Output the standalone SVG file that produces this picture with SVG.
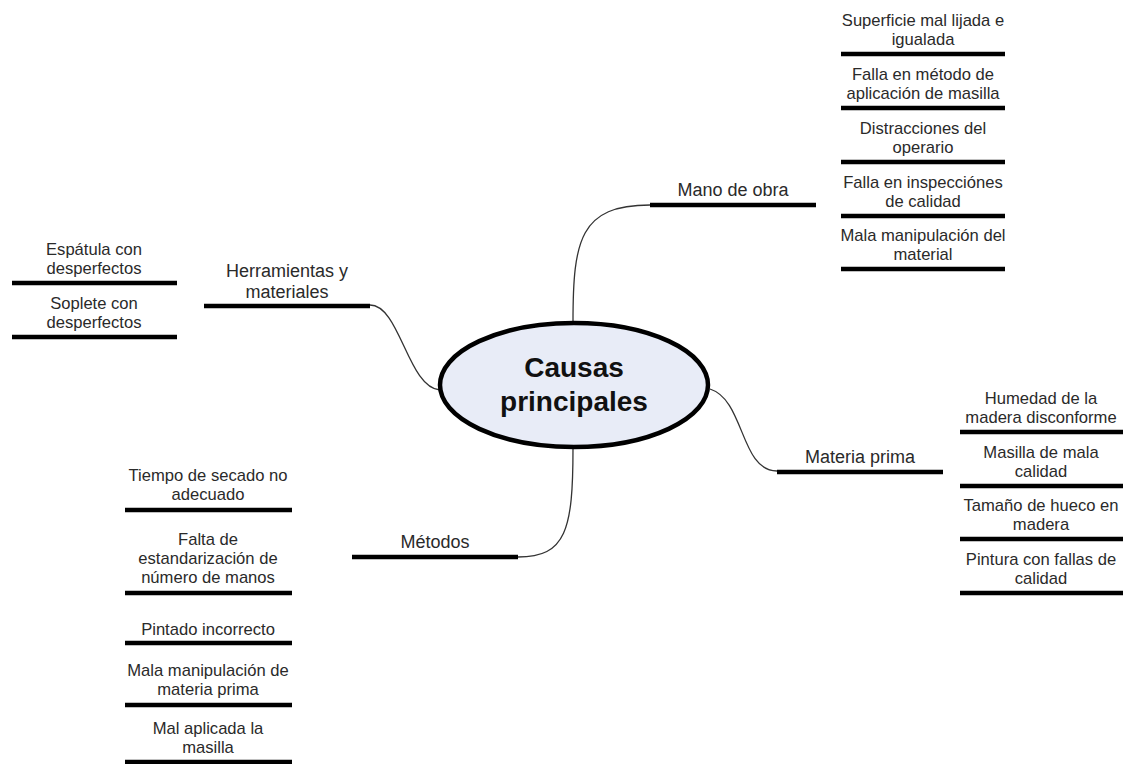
<svg xmlns="http://www.w3.org/2000/svg" width="1123" height="764" viewBox="0 0 1123 764">
<style>
text{font-family:"Liberation Sans",Arial,sans-serif;fill:#2a2a2a;text-anchor:middle}
.leaf{font-size:16.6px}
.br{font-size:18px}
.main{font-size:28px;font-weight:bold;fill:#111}
.bar{stroke:#000;stroke-width:4.5;stroke-linecap:butt}
.con{fill:none;stroke:#333;stroke-width:1.3}
</style>
<rect width="1123" height="764" fill="#fff"/>
<g id="connectors">
<path class="con" d="M370,305 C400,305 408,388 440,390"/>
<path class="con" d="M573,322 C573,240 580,205 650,205"/>
<path class="con" d="M710,389 C745,400 740,471 777,471"/>
<path class="con" d="M573,448 C573,530 566,557 518,557"/>
</g>
<g id="center">
<ellipse cx="574" cy="385" rx="134" ry="62" fill="#e8ecf7" stroke="#000" stroke-width="4.5"/>
<text class="main" x="574" y="377">Causas</text>
<text class="main" x="574" y="411">principales</text>
</g>
<g id="mano-de-obra">
<text class="br" x="733" y="196">Mano de obra</text>
<line class="bar" x1="650" y1="205" x2="816" y2="205"/>
</g>
<g id="mo-1"><text class="leaf" x="923" y="26">Superficie mal lijada e</text><text class="leaf" x="923" y="45">igualada</text><line class="bar" x1="841" y1="54" x2="1005" y2="54"/></g>
<g id="mo-2"><text class="leaf" x="923" y="80">Falla en método de</text><text class="leaf" x="923" y="99">aplicación de masilla</text><line class="bar" x1="841" y1="108" x2="1005" y2="108"/></g>
<g id="mo-3"><text class="leaf" x="923" y="134">Distracciones del</text><text class="leaf" x="923" y="153">operario</text><line class="bar" x1="841" y1="162" x2="1005" y2="162"/></g>
<g id="mo-4"><text class="leaf" x="923" y="188">Falla en inspecciónes</text><text class="leaf" x="923" y="207">de calidad</text><line class="bar" x1="841" y1="216" x2="1005" y2="216"/></g>
<g id="mo-5"><text class="leaf" x="923" y="241">Mala manipulación del</text><text class="leaf" x="923" y="260">material</text><line class="bar" x1="841" y1="269" x2="1005" y2="269"/></g>
<g id="herramientas">
<text class="br" x="287" y="277">Herramientas y</text>
<text class="br" x="287" y="298">materiales</text>
<line class="bar" x1="204" y1="306" x2="370" y2="306"/>
</g>
<g id="hm-1"><text class="leaf" x="94" y="255">Espátula con</text><text class="leaf" x="94" y="274">desperfectos</text><line class="bar" x1="12" y1="283" x2="177" y2="283"/></g>
<g id="hm-2"><text class="leaf" x="94" y="309">Soplete con</text><text class="leaf" x="94" y="328">desperfectos</text><line class="bar" x1="12" y1="337" x2="177" y2="337"/></g>
<g id="materia-prima">
<text class="br" x="860" y="463">Materia prima</text>
<line class="bar" x1="777" y1="472" x2="943" y2="472"/>
</g>
<g id="mp-1"><text class="leaf" x="1041" y="404">Humedad de la</text><text class="leaf" x="1041" y="423">madera disconforme</text><line class="bar" x1="960" y1="432" x2="1123" y2="432"/></g>
<g id="mp-2"><text class="leaf" x="1041" y="458">Masilla de mala</text><text class="leaf" x="1041" y="477">calidad</text><line class="bar" x1="960" y1="486" x2="1123" y2="486"/></g>
<g id="mp-3"><text class="leaf" x="1041" y="511">Tamaño de hueco en</text><text class="leaf" x="1041" y="530">madera</text><line class="bar" x1="960" y1="539" x2="1123" y2="539"/></g>
<g id="mp-4"><text class="leaf" x="1041" y="565">Pintura con fallas de</text><text class="leaf" x="1041" y="584">calidad</text><line class="bar" x1="960" y1="593" x2="1123" y2="593"/></g>
<g id="metodos">
<text class="br" x="435" y="548">Métodos</text>
<line class="bar" x1="352" y1="557" x2="518" y2="557"/>
</g>
<g id="me-1"><text class="leaf" x="208" y="481">Tiempo de secado no</text><text class="leaf" x="208" y="500">adecuado</text><line class="bar" x1="125" y1="510" x2="292" y2="510"/></g>
<g id="me-2"><text class="leaf" x="208" y="545">Falta de</text><text class="leaf" x="208" y="564">estandarización de</text><text class="leaf" x="208" y="583">número de manos</text><line class="bar" x1="125" y1="593" x2="292" y2="593"/></g>
<g id="me-3"><text class="leaf" x="208" y="635">Pintado incorrecto</text><line class="bar" x1="125" y1="643" x2="292" y2="643"/></g>
<g id="me-4"><text class="leaf" x="208" y="676">Mala manipulación de</text><text class="leaf" x="208" y="695">materia prima</text><line class="bar" x1="125" y1="705" x2="292" y2="705"/></g>
<g id="me-5"><text class="leaf" x="208" y="734">Mal aplicada la</text><text class="leaf" x="208" y="753">masilla</text><line class="bar" x1="125" y1="762" x2="292" y2="762"/></g>
</svg>
